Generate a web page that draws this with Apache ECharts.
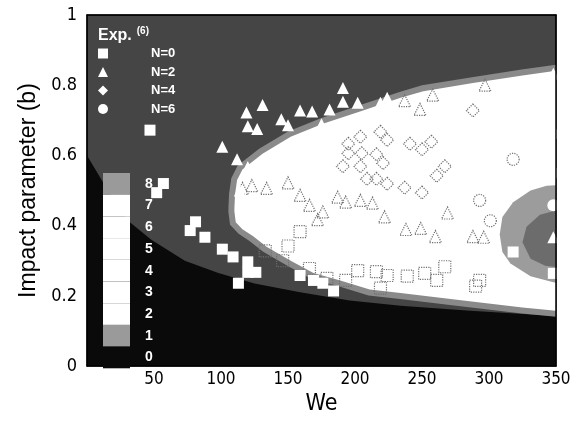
<!DOCTYPE html>
<html>
<head>
<meta charset="utf-8">
<script src="https://cdn.jsdelivr.net/npm/echarts@6/dist/echarts.min.js"></script>
<style>
  html, body { margin: 0; padding: 0; background: #fff; }
  #chart { width: 579px; height: 421px; }
</style>
</head>
<body>
<div id="chart"></div>
<script>
// contour boundaries, [We, b]
const blackEdge = [[0, 0.60], [25, 0.44], [32, 0.41], [48, 0.36], [73, 0.30], [98, 0.265], [125, 0.235], [159, 0.21], [196, 0.187], [234, 0.172], [286, 0.158], [352, 0.142]]
const whiteUpper = [[110, 0.45], [110.5, 0.49], [112, 0.53], [116, 0.56], [131, 0.605], [152, 0.653], [176, 0.69], [206, 0.728], [234, 0.764], [251, 0.783], [288, 0.806], [325, 0.828], [352, 0.842]]
const whiteLower = [[110, 0.44], [111, 0.41], [116, 0.39], [124, 0.37], [134, 0.34], [152, 0.30], [169, 0.265], [189, 0.244], [211, 0.218], [234, 0.208], [276, 0.189], [325, 0.167], [352, 0.157]]
const rightOuter = [[352, 0.515], [343, 0.514], [331, 0.50], [318, 0.467], [310, 0.425], [308, 0.375], [310, 0.325], [316, 0.292], [331, 0.256], [348, 0.239], [352, 0.236]]
const rightInner = [[352, 0.445], [338, 0.431], [328, 0.397], [325, 0.353], [331, 0.306], [342, 0.286], [352, 0.281]]

// experiment (filled markers)
const expN0 = [[47, 0.672], [57, 0.52], [52, 0.494], [81, 0.411], [77, 0.386], [88, 0.367], [101, 0.333], [109, 0.311], [120, 0.297], [120, 0.267], [126, 0.267], [113, 0.236], [159, 0.258], [169, 0.244], [176, 0.236], [184, 0.214], [318, 0.325], [348, 0.264]]
const expN2 = [[101, 0.625], [112, 0.589], [120, 0.567], [114, 0.50], [119, 0.722], [120, 0.683], [127, 0.675], [131, 0.744], [145, 0.703], [150, 0.686], [159, 0.728], [168, 0.725], [175, 0.689], [181, 0.731], [191, 0.792], [191, 0.753], [202, 0.75], [219, 0.75], [224, 0.764], [348, 0.833], [348, 0.367]]
const expN4 = []
const expN6 = [[348, 0.661], [348, 0.55], [348, 0.458]]

// hollow dotted markers
const simSquare = [[133, 0.328], [150, 0.342], [159, 0.383], [146, 0.30], [166, 0.278], [179, 0.25], [193, 0.244], [202, 0.272], [216, 0.269], [224, 0.258], [219, 0.222], [239, 0.256], [252, 0.264], [261, 0.244], [267, 0.283], [293, 0.244], [290, 0.228]]
const simTriangle = [[116, 0.506], [123, 0.514], [134, 0.506], [150, 0.522], [159, 0.486], [166, 0.458], [176, 0.439], [172, 0.417], [187, 0.481], [193, 0.467], [204, 0.472], [213, 0.464], [222, 0.425], [238, 0.389], [249, 0.392], [260, 0.369], [269, 0.436], [288, 0.369], [296, 0.367], [237, 0.756], [248.5, 0.731], [258, 0.772], [297, 0.80]]
const simDiamond = [[195, 0.633], [204, 0.653], [219, 0.667], [224, 0.644], [195, 0.606], [205, 0.606], [216, 0.603], [221, 0.578], [191, 0.569], [204, 0.569], [209, 0.533], [216, 0.533], [224, 0.519], [241, 0.633], [250, 0.617], [257, 0.639], [267, 0.569], [261, 0.542], [237, 0.508], [250, 0.494], [288, 0.728]]
const simCircle = [[318, 0.589], [293, 0.472], [301, 0.414]]

// colour bar levels
const levels = [0, 1, 2, 3, 4, 5, 6, 7, 8]
const levelColors = ['#0a0a0a', '#9a9a9a', '#fff', '#fff', '#fff', '#fff', '#fff', '#fff', '#9a9a9a']

const font = '"Liberation Sans", Arial, sans-serif'
const narrow = '"Liberation Sans Narrow", "Arial Narrow", "DejaVu Sans Condensed", sans-serif'

const region = (pts, fill, z, stroke) => ({
  type: 'custom',
  silent: true,
  clip: true,
  z,
  data: pts,
  renderItem: (params, api) => {
    if (params.dataIndex !== 0) return
    const points = pts.map(p => api.coord(p))
    const children = []
    if (stroke) {
      children.push({ type: 'polygon', shape: { points }, style: { fill: 'none', stroke, lineWidth: 12 } })
    }
    children.push({ type: 'polygon', shape: { points }, style: { fill } })
    return { type: 'group', children }
  }
})

const filled = (name, data, symbol, size) => ({
  type: 'scatter', name, data, symbol, symbolSize: size, z: 6,
  itemStyle: { color: '#fff', opacity: 1 }
})

const hollow = (data, symbol, size) => ({
  type: 'scatter', data, symbol, symbolSize: size, z: 5, silent: true,
  itemStyle: { color: 'rgba(255,255,255,0)', borderColor: '#707070', borderWidth: 1.2, borderType: 'dotted', opacity: 1 }
})

const chart = echarts.init(document.getElementById('chart'))

const option = {
  animation: false,
  textStyle: { fontFamily: font },
  title: {
    text: '{a|Exp.}{b|(6)}',
    left: 93, top: 21,
    textStyle: {
      rich: {
        a: { fontSize: 16, color: '#fff', fontFamily: font, lineHeight: 20 },
        b: { fontSize: 10, color: '#fff', fontFamily: font, verticalAlign: 'top', padding: [0, 0, 8, 5] }
      }
    }
  },
  legend: {
    data: ['N=0', 'N=2', 'N=4', 'N=6'],
    orient: 'vertical',
    left: 93, top: 42,
    itemWidth: 10, itemHeight: 10, itemGap: 5.5,
    selectedMode: false,
    textStyle: { color: '#fff', fontSize: 13, fontWeight: 'bold', fontFamily: font, padding: [0, 0, 0, 38] },
    z: 10
  },
  visualMap: {
    type: 'piecewise',
    seriesIndex: 13,
    orient: 'vertical',
    left: 88, top: 158,
    itemWidth: 27, itemHeight: 21.7, itemGap: 0,
    itemSymbol: 'rect',
    textGap: 15,
    selectedMode: false,
    textStyle: { color: '#fff', fontSize: 14, fontWeight: 'bold', fontFamily: font },
    pieces: levels.map((v, i) => ({ value: v, label: String(v), color: levelColors[i] })),
    z: 10
  },
  grid: {
    left: 87, right: 23, top: 15, bottom: 46,
    show: true, backgroundColor: '#454545', borderColor: '#000', borderWidth: 1
  },
  xAxis: [{
    type: 'value', min: 0, max: 350, interval: 50, z: 8,
    name: 'We', nameLocation: 'middle', nameGap: 26,
    nameTextStyle: { fontSize: 23, color: '#000', fontFamily: narrow },
    axisLine: { show: true, onZero: false, lineStyle: { color: '#000', width: 1.5 } },
    axisTick: { show: false },
    splitLine: { show: false },
    axisLabel: { fontSize: 17, color: '#000', margin: 5, showMinLabel: false, fontFamily: narrow }
  }, {
    type: 'value', min: 0, max: 350, position: 'top', z: 8,
    axisLine: { show: true, onZero: false, lineStyle: { color: '#000', width: 1.5 } },
    axisTick: { show: false }, axisLabel: { show: false }, splitLine: { show: false }
  }],
  yAxis: [{
    type: 'value', min: 0, max: 1, interval: 0.2, z: 8,
    name: 'Impact parameter (b)', nameLocation: 'middle', nameGap: 46,
    nameTextStyle: { fontSize: 23, color: '#000', fontFamily: font },
    axisLine: { show: true, onZero: false, lineStyle: { color: '#000', width: 1.5 } },
    axisTick: { show: false },
    splitLine: { show: false },
    axisLabel: { fontSize: 18, color: '#000', margin: 10, fontFamily: narrow }
  }, {
    type: 'value', min: 0, max: 1, position: 'right', z: 8,
    axisLine: { show: true, onZero: false, lineStyle: { color: '#000', width: 1.5 } },
    axisTick: { show: false }, axisLabel: { show: false }, splitLine: { show: false }
  }],
  series: [
    region([...blackEdge, [352, 0], [0, 0]], '#0a0a0a', 1),
    region([...whiteUpper, ...whiteLower.slice().reverse()], '#fff', 2, '#8a8a8a'),
    region(rightOuter, '#9c9c9c', 3),
    region(rightInner, '#6c6c6c', 3),
    hollow(simSquare, 'rect', 12),
    hollow(simTriangle, 'triangle', 12),
    hollow(simDiamond, 'diamond', 13),
    hollow(simCircle, 'circle', 12),
    filled('N=0', expN0, 'rect', 11),
    filled('N=2', expN2, 'triangle', 12),
    filled('N=4', expN4, 'diamond', 12),
    filled('N=6', expN6, 'circle', 12),
    { type: 'scatter', data: [], silent: true },
    { type: 'scatter', data: [], silent: true }
  ]
}

chart.setOption(option)
</script>
</body>
</html>
